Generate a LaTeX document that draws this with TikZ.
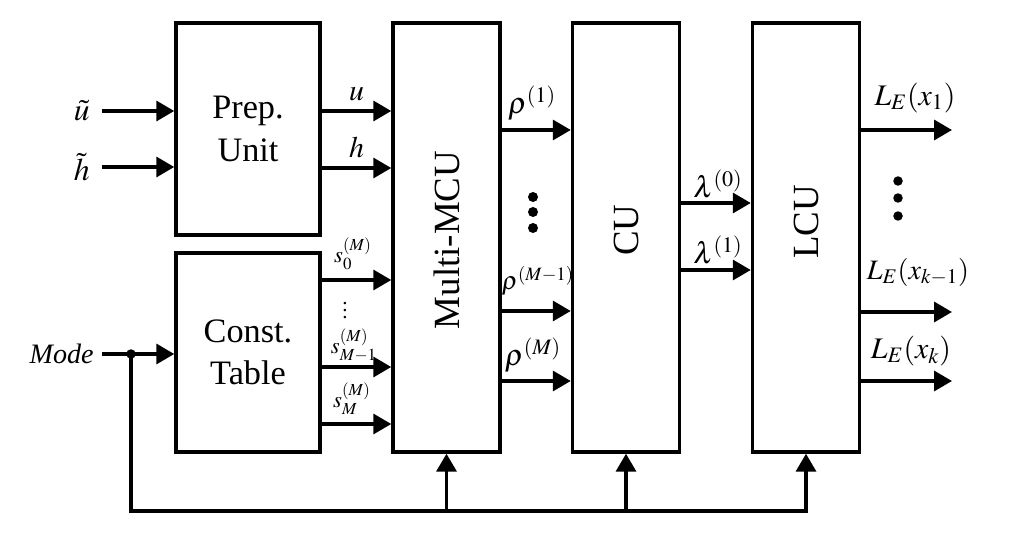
\documentclass[tikz,border=0pt]{standalone}
\usepackage{mathptmx}
\usepackage{fontspec}
\setmainfont{Liberation Serif}
\usetikzlibrary{arrows.meta}

\begin{document}
\begin{tikzpicture}[x=0.02cm, y=-0.02cm,
    blk/.style={draw, line width=2pt, inner sep=0pt, minimum width=2.14cm, minimum height=8.58cm},
    arr/.style={line width=2pt, -{Triangle[length=0.36cm,width=0.4cm]}},
    lbl/.style={inner sep=0pt, font=\fontsize{17}{20}\selectfont},
    slbl/.style={inner sep=0pt, font=\fontsize{13}{15}\selectfont},
    big/.style={font=\fontsize{19.5}{24}\selectfont},
    bigdot/.style={circle, fill, inner sep=0pt, minimum size=0.19cm}]
  \useasboundingbox (0,0) rectangle (1025,537);

  % blocks
  \node[blk, minimum width=2.88cm, minimum height=4.24cm, align=center, big] (prep) at (248,129) {Prep.\\Unit};
  \node[blk, minimum width=2.88cm, minimum height=3.98cm, align=center, big] (ctab) at (248,352.5) {Const.\\Table};
  \node[blk] (mmcu) at (446.5,237.5) {};
  \node[blk] (cu) at (626,237.5) {};
  \node[blk] (lcu) at (806,237.5) {};
  \node[rotate=90, font=\fontsize{21}{24}\selectfont] at (446.5,240) {Multi-MCU};
  \node[rotate=90, font=\fontsize{21}{24}\selectfont] at (626,230) {CU};
  \node[rotate=90, font=\fontsize{21}{24}\selectfont] at (806,222) {LCU};

  % inputs
  \node[lbl, anchor=east, font=\fontsize{18}{20}\selectfont] (ut) at (90,111) {$\tilde{u}$};
  \node[lbl, anchor=east, font=\fontsize{18}{20}\selectfont] (ht) at (90,167) {$\tilde{h}$};
  \node[anchor=east, inner sep=0pt, font=\fontsize{16}{18}\selectfont\itshape] (mode) at (94,354) {Mode};
  \draw[arr] ([xshift=0.24cm]ut.east) -- (prep.west |- ut);
  \draw[arr] ([xshift=0.24cm]ht.east) -- (prep.west |- ht);
  \draw[arr] ([xshift=0.16cm]mode.east) -- (ctab.west |- mode);
  \node[bigdot] (jn) at (131,354) {};

  % prep outputs
  \draw[arr] (prep.east |- 0,111) -- (mmcu.west |- 0,111) node[lbl, midway, above=5pt] {$u$};
  \draw[arr] (prep.east |- 0,168) -- (mmcu.west |- 0,168) node[lbl, midway, above=5pt] {$h$};

  % table outputs
  \draw[arr] (ctab.east |- 0,280) -- (mmcu.west |- 0,280);
  \draw[arr] (ctab.east |- 0,367) -- (mmcu.west |- 0,367);
  \draw[arr] (ctab.east |- 0,424) -- (mmcu.west |- 0,424);
  \node[slbl] (s0) at (353,254) {$s_0^{(M)}$};
  \node[slbl, font=\fontsize{12}{14}\selectfont] (sd) at (345,305) {$\vdots$};
  \node[slbl] (sm1) at (354,345) {$s_{M-1}^{(M)}$};
  \node[slbl] (sm) at (352,399) {$s_M^{(M)}$};

  % multi-mcu outputs
  \draw[arr] (mmcu.east |- 0,130) -- (cu.west |- 0,130);
  \draw[arr] (mmcu.east |- 0,311) -- (cu.west |- 0,311);
  \draw[arr] (mmcu.east |- 0,381) -- (cu.west |- 0,381);
  \node[lbl] (r1) at (532,103) {$\rho^{(1)}$};
  \node[lbl, font=\fontsize{14.5}{16}\selectfont] (rm1) at (538,281) {$\rho^{(M-1)}$};
  \node[lbl] (rm) at (533,355) {$\rho^{(M)}$};
  \foreach \y in {197,212,228} \node[bigdot, minimum size=0.2cm] at (533,\y) {};

  % cu outputs
  \draw[arr] (cu.east |- 0,203) -- (lcu.west |- 0,203);
  \draw[arr] (cu.east |- 0,270) -- (lcu.west |- 0,270);
  \node[lbl] (l0) at (718,184) {$\lambda^{(0)}$};
  \node[lbl] (l1) at (718,250) {$\lambda^{(1)}$};

  % lcu outputs
  \coordinate (o1) at (952,130);
  \coordinate (o2) at (952,312);
  \coordinate (o3) at (952,381);
  \draw[arr] (lcu.east |- o1) -- (o1);
  \draw[arr] (lcu.east |- o2) -- (o2);
  \draw[arr] (lcu.east |- o3) -- (o3);
  \node[lbl] (e1) at (915,98) {$L_E(x_1)$};
  \node[lbl, font=\fontsize{16}{18}\selectfont] (e2) at (918,272) {$L_E(x_{k-1})$};
  \node[lbl] (e3) at (911,351) {$L_E(x_k)$};
  \foreach \y in {181,198,216} \node[bigdot] at (898,\y) {};

  % mode feedback
  \draw[line width=2pt, line cap=rect] (jn.center) |- (lcu.south |- 0,511);
  \draw[arr] (mmcu.south |- 0,511) -- (mmcu.south);
  \draw[arr] (cu.south |- 0,511) -- (cu.south);
  \draw[arr] (lcu.south |- 0,511) -- (lcu.south);
\end{tikzpicture}
\end{document}
